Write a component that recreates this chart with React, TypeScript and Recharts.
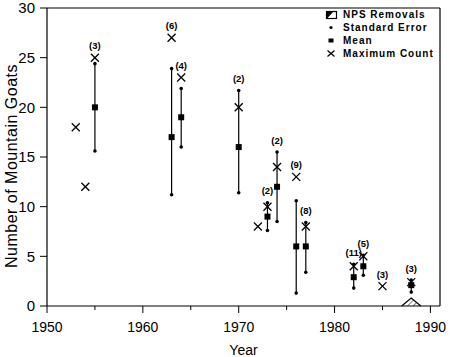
import { ComposedChart, Scatter, XAxis, YAxis, ErrorBar, LabelList, Area, ReferenceLine, Legend } from 'recharts';

// mean +/- standard error, by survey year
const meanYears = [1955, 1963, 1964, 1970, 1973, 1974, 1976, 1977, 1982, 1983, 1988];
const means = [20, 17, 19, 16, 9, 12, 6, 6, 2.9, 4, 2.1];
const seLow = [15.6, 11.2, 16.0, 11.4, 7.6, 8.5, 1.3, 3.4, 1.8, 3.1, 1.4];
const seHigh = [24.4, 23.9, 21.9, 21.7, 10.4, 15.5, 10.6, 8.4, 4.2, 5.1, 2.6];

// maximum count
const maxYears = [1953, 1954, 1955, 1963, 1964, 1970, 1972, 1973, 1974, 1976, 1977, 1982, 1983, 1985, 1988];
const maxCounts = [18, 12, 25, 27, 23, 20, 8, 10, 14, 13, 8, 4, 5, 2, 2.4];

// number of counts per year, shown as (n)
const countYears = [1955, 1963, 1964, 1970, 1973, 1974, 1976, 1977, 1982, 1983, 1985, 1988];
const sampleSizes = [3, 6, 4, 2, 2, 2, 9, 8, 11, 5, 3, 3];

// NPS removals
const npsYears = [1987, 1988, 1989];
const npsRemovals = [0, 0.8, 0];

const xTicks = [1950, 1955, 1960, 1965, 1970, 1975, 1980, 1985, 1990];
const yTicks = [0, 5, 10, 15, 20, 25, 30];

const FONT = '"Liberation Sans", Arial, Helvetica, sans-serif';

const npsData = npsYears.map((x, i) => ({ x, nps: npsRemovals[i] }));
const meanData = meanYears.map((x, i) => ({ x, y: means[i], err: [means[i] - seLow[i], seHigh[i] - means[i]] }));
const seData = meanYears.flatMap((x, i) => [{ x, y: seLow[i] }, { x, y: seHigh[i] }]);
const maxData = maxYears.map((x, i) => ({ x, y: maxCounts[i] }));
const labelData = countYears.map((x, i) => {
  const mi = maxYears.indexOf(x);
  const si = meanYears.indexOf(x);
  const top = Math.max(mi >= 0 ? maxCounts[mi] : 0, si >= 0 ? seHigh[si] : 0);
  return { x, y: top, n: sampleSizes[i] };
});

const Cross = (props: any) => {
  const { cx, cy } = props;
  const s = 4;
  return (
    <g stroke="#000" strokeWidth={1.3}>
      <line x1={cx - s} y1={cy - s} x2={cx + s} y2={cy + s} />
      <line x1={cx - s} y1={cy + s} x2={cx + s} y2={cy - s} />
    </g>
  );
};

const Square = (props: any) => <rect x={props.cx - 3} y={props.cy - 3} width={6} height={6} fill="#000" />;
const Dot = (props: any) => <circle cx={props.cx} cy={props.cy} r={1.8} fill="#000" />;
const Nothing = () => <g />;

const YearTick = (props: any) => {
  const { x, y, payload } = props;
  const major = payload.value % 10 === 0;
  return (
    <g>
      <line x1={x} y1={y} x2={x} y2={y + (major ? 7 : 4)} stroke="#000" />
      {major && (
        <text x={x} y={y + 26} textAnchor="middle" fontSize={14} fontFamily={FONT} fill="#000">
          {payload.value}
        </text>
      )}
    </g>
  );
};

const legendRows = [
  { name: 'NPS Removals', icon: 'nps' },
  { name: 'Standard Error', icon: 'se' },
  { name: 'Mean', icon: 'mean' },
  { name: 'Maximum Count', icon: 'max' },
];

const LegendIcon = ({ kind }: { kind: string }) => (
  <svg width={14} height={13} style={{ marginRight: 4 }}>
    {kind === 'nps' && (
      <g stroke="#000" fill="none">
        <rect x={1.5} y={3.5} width={10} height={7} strokeWidth={1.2} />
        <path d="M1.5 10.5 L8 3.5 L1.5 3.5 Z" fill="#000" />
      </g>
    )}
    {kind === 'se' && <circle cx={6} cy={6.5} r={1.6} fill="#000" />}
    {kind === 'mean' && <rect x={3.5} y={4.5} width={5} height={4} fill="#000" />}
    {kind === 'max' && (
      <g stroke="#000" strokeWidth={1.2}>
        <line x1={2.5} y1={3.5} x2={9.5} y2={9.5} />
        <line x1={2.5} y1={9.5} x2={9.5} y2={3.5} />
      </g>
    )}
  </svg>
);

const LegendBox = () => (
  <div style={{ fontFamily: FONT, fontSize: 10, fontWeight: 'bold', letterSpacing: 1, color: '#000' }}>
    {legendRows.map((r) => (
      <div key={r.name} style={{ display: 'flex', alignItems: 'center', height: 13 }}>
        <LegendIcon kind={r.icon} />
        <span>{r.name}</span>
      </div>
    ))}
  </div>
);

export default function App() {
  return (
    <div style={{ position: 'absolute', left: 0, top: 0, background: '#fff' }}>
      <ComposedChart width={450} height={357} data={npsData} margin={{ top: 8, right: 10, bottom: 0, left: 0 }}>
        <defs>
          <pattern id="hatch" width="4" height="4" patternUnits="userSpaceOnUse" patternTransform="rotate(45)">
            <line x1="0" y1="0" x2="0" y2="4" stroke="#000" strokeWidth={1} />
          </pattern>
        </defs>
        <XAxis
          type="number"
          dataKey="x"
          domain={[1950, 1991]}
          ticks={xTicks}
          interval={0}
          allowDataOverflow
          tickLine={false}
          tickSize={0}
          tickMargin={0}
          tick={<YearTick />}
          height={51}
          axisLine={{ stroke: '#000', strokeWidth: 1.2 }}
          label={{ value: 'Year', position: 'insideBottom', offset: 2, fontSize: 14, fontFamily: FONT, fill: '#000' }}
        />
        <YAxis
          type="number"
          domain={[0, 30]}
          ticks={yTicks}
          interval={0}
          width={47}
          tickSize={7}
          tickMargin={5}
          tickLine={{ stroke: '#000' }}
          axisLine={{ stroke: '#000', strokeWidth: 1.2 }}
          tick={{ fontSize: 15, fontFamily: FONT, fill: '#000' }}
          label={{
            content: () => (
              <text
                x={11}
                y={166}
                transform="rotate(-90 11 166)"
                textAnchor="middle"
                dominantBaseline="central"
                fontSize={16}
                letterSpacing={0.5}
                fontFamily={FONT}
                fill="#000"
              >
                Number of Mountain Goats
              </text>
            ),
          }}
        />
        <ReferenceLine y={30} stroke="#000" strokeWidth={1.2} />
        <ReferenceLine x={1991} stroke="#000" strokeWidth={1.2} />
        <Area
          type="linear"
          dataKey="nps"
          stroke="#000"
          strokeWidth={1.2}
          fill="url(#hatch)"
          fillOpacity={1}
          isAnimationActive={false}
          dot={false}
          activeDot={false}
        />
        <Scatter data={meanData} dataKey="y" shape={Square} isAnimationActive={false}>
          <ErrorBar dataKey="err" direction="y" width={0} stroke="#000" strokeWidth={1.2} isAnimationActive={false} />
        </Scatter>
        <Scatter data={seData} dataKey="y" shape={Dot} isAnimationActive={false} />
        <Scatter data={maxData} dataKey="y" shape={Cross} isAnimationActive={false} />
        <Scatter data={labelData} dataKey="y" shape={Nothing} isAnimationActive={false}>
          <LabelList
            dataKey="n"
            position="top"
            offset={4}
            formatter={(v: any) => `(${v})`}
            style={{ fontSize: 9.5, fontWeight: 'bold', fontFamily: FONT, fill: '#000' }}
          />
        </Scatter>
        <Legend
          layout="vertical"
          align="center"
          verticalAlign="middle"
          content={<LegendBox />}
          wrapperStyle={{ position: 'absolute', top: 8, left: 325, width: 115 }}
        />
      </ComposedChart>
    </div>
  );
}
